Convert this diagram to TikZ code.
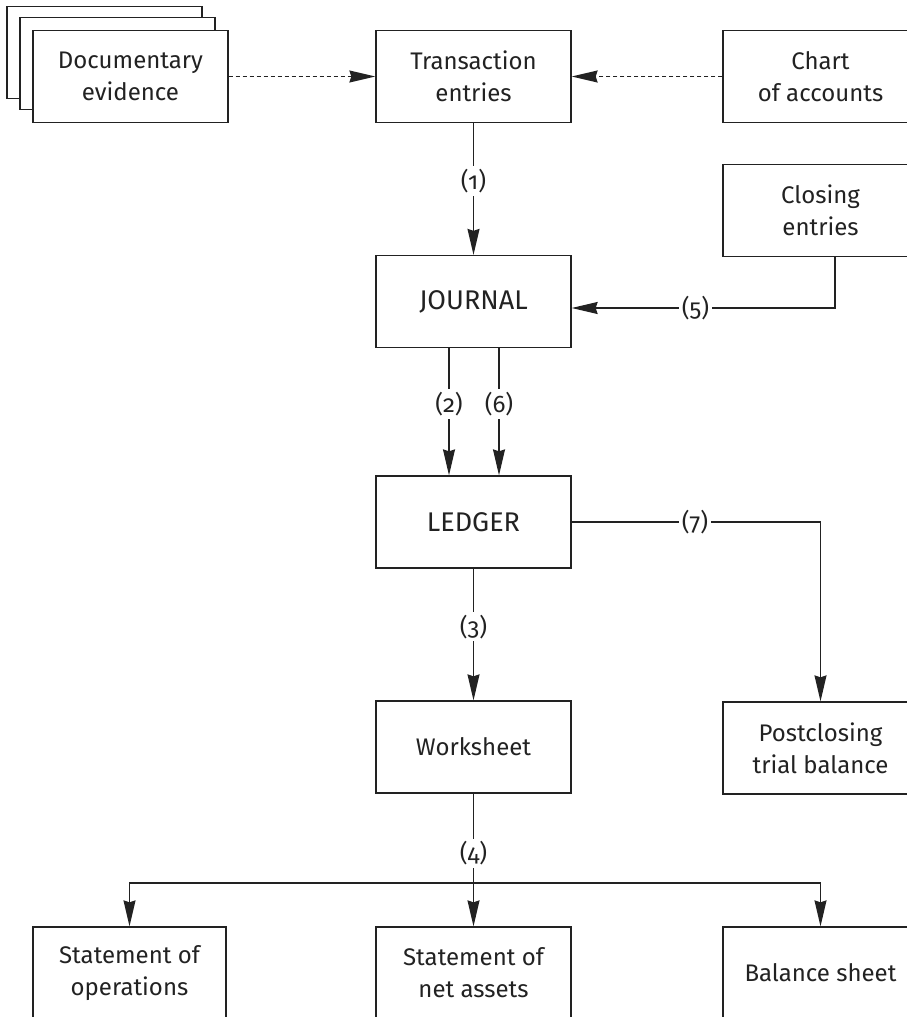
\documentclass[tikz,border=0pt]{standalone}
\usepackage{fontspec}
\setmainfont{Fira Sans}[Numbers=OldStyle]
\usetikzlibrary{arrows.meta}
\definecolor{ink}{HTML}{222222}
\newcommand{\capsword}[1]{{\fontsize{27}{32}\selectfont #1}}
\tikzset{
  box/.style={draw=ink, line width=1.3pt, fill=white, minimum height=92pt,
    align=center, inner sep=0pt, font=\fontsize{24}{32}\selectfont, text=ink},
  wbox/.style={box, minimum width=195pt},
  arr/.style={draw=ink, line width=1.3pt, -{Stealth[length=26pt,width=12pt,inset=2pt]}},
  link/.style={draw=ink, line width=1.3pt},
  dashlink/.style={arr, dash pattern=on 4pt off 3pt},
  lbl/.style={fill=white, inner sep=3pt, font=\fontsize{24}{28}\selectfont, text=ink}
}
\begin{document}
\begin{tikzpicture}[x=1pt, y=-1pt]
\path[use as bounding box] (0,0) rectangle (907,1017);
\clip (0,0) rectangle (907,1017);

% stacked documents
\node[wbox] (docC) at (104.5,52.5) {};
\node[wbox] (docB) at (117.5,63.5) {};
\node[wbox] (doc) at (130.5,76.5) {Documentary\\evidence};

% main column
\node[wbox] (tx) at (473.5,76.5) {Transaction\\entries};
\node[wbox] (jr) at (473.5,301.5) {\capsword{JOURNAL}};
\node[wbox] (lg) at (473.5,522) {\capsword{LEDGER}};
\node[wbox] (ws) at (473.5,747) {Worksheet};

% right column
\node[wbox] (chart) at (820.5,76.5) {Chart\\of accounts};
\node[wbox] (close) at (820.5,210.5) {Closing\\entries};
\node[wbox] (post) at (820.5,748) {Postclosing\\trial balance};

% financial statements
\node[box, minimum width=193pt] (sop) at (129.5,973) {Statement of\\operations};
\node[wbox] (sna) at (473.5,973) {Statement of\\net assets};
\node[wbox] (bs) at (820.5,973) {Balance sheet};

% sources feeding the transaction entries
\draw[dashlink] (doc.east) -- (tx.west);
\draw[dashlink] (chart.west) -- (tx.east);

% numbered flows
\draw[arr] (tx.south) -- node[lbl, pos=0.44] {(1)} (jr.north);
\draw[arr] ([xshift=14.5pt]close.south) |- node[lbl, pos=0.765] {(5)} ([yshift=-6.5pt]jr.east);
\draw[arr] ([xshift=-24.5pt]jr.south) -- node[lbl, pos=0.44] {(2)} ([xshift=-24.5pt]lg.north);
\draw[arr] ([xshift=25.5pt]jr.south) -- node[lbl, pos=0.44] {(6)} ([xshift=25.5pt]lg.north);
\draw[arr] (lg.east) -| node[lbl, pos=0.248] {(7)} (post.north);
\draw[arr] (lg.south) -- node[lbl, pos=0.44] {(3)} (ws.north);

% worksheet to the three statements
\coordinate (br) at (473.5,883);
\draw[link] (ws.south) -- node[lbl, pos=0.67] {(4)} (br);
\draw[arr] (br) -| (sop.north);
\draw[arr] (br) -- (sna.north);
\draw[arr] (br) -| (bs.north);
\end{tikzpicture}
\end{document}
